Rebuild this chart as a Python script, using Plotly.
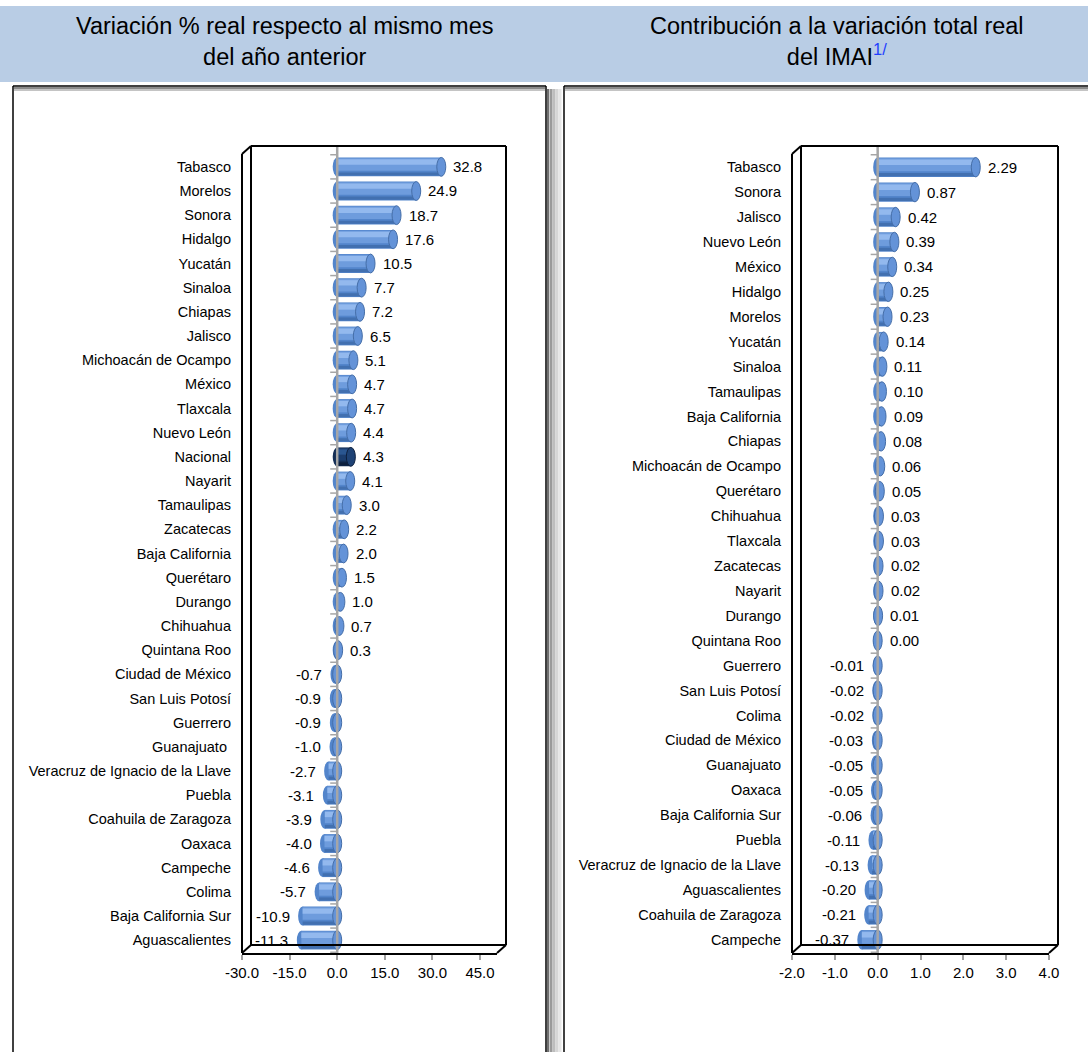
import plotly.graph_objects as go

# ---------------- data ----------------
left_cats = ["Tabasco", "Morelos", "Sonora", "Hidalgo", "Yucatán", "Sinaloa", "Chiapas", "Jalisco",
             "Michoacán de Ocampo", "México", "Tlaxcala", "Nuevo León", "Nacional", "Nayarit",
             "Tamaulipas", "Zacatecas", "Baja California", "Querétaro", "Durango", "Chihuahua",
             "Quintana Roo", "Ciudad de México", "San Luis Potosí", "Guerrero", "Guanajuato ",
             "Veracruz de Ignacio de la Llave", "Puebla", "Coahuila de Zaragoza", "Oaxaca",
             "Campeche", "Colima", "Baja California Sur", "Aguascalientes"]
left_vals = [32.8, 24.9, 18.7, 17.6, 10.5, 7.7, 7.2, 6.5, 5.1, 4.7, 4.7, 4.4, 4.3, 4.1,
             3.0, 2.2, 2.0, 1.5, 1.0, 0.7, 0.3, -0.7, -0.9, -0.9, -1.0, -2.7, -3.1, -3.9,
             -4.0, -4.6, -5.7, -10.9, -11.3]

right_cats = ["Tabasco", "Sonora", "Jalisco", "Nuevo León", "México", "Hidalgo", "Morelos",
              "Yucatán", "Sinaloa", "Tamaulipas", "Baja California", "Chiapas",
              "Michoacán de Ocampo", "Querétaro", "Chihuahua", "Tlaxcala", "Zacatecas",
              "Nayarit", "Durango", "Quintana Roo", "Guerrero", "San Luis Potosí", "Colima",
              "Ciudad de México", "Guanajuato", "Oaxaca", "Baja California Sur", "Puebla",
              "Veracruz de Ignacio de la Llave", "Aguascalientes", "Coahuila de Zaragoza",
              "Campeche"]
right_vals = [2.29, 0.87, 0.42, 0.39, 0.34, 0.25, 0.23, 0.14, 0.11, 0.10, 0.09, 0.08, 0.06,
              0.05, 0.03, 0.03, 0.02, 0.02, 0.01, 0.00, -0.01, -0.02, -0.02, -0.03, -0.05,
              -0.05, -0.06, -0.11, -0.13, -0.20, -0.21, -0.37]

left_ticks = [-30, -15, 0, 15, 30, 45]
right_ticks = [-2, -1, 0, 1, 2, 3, 4]
left_title = "Variación % real respecto al mismo mes<br>del año anterior"
right_title = ("Contribución a la variación total real<br>del IMAI"
               "<span style='color:#1F3FFF'><sup>1/</sup></span>")
highlight_cat = "Nacional"

# ---------------- geometry helpers ----------------
W, H = 1088, 1052
FONT = "Liberation Sans, Arial, sans-serif"


def px(x):
    return x / W


def py(y):
    return 1 - y / H


FRONT_TOP, FRONT_BOT = 154, 953
DX, DY = 9, -8

panels = [
    dict(cats=left_cats, vals=left_vals, xa="x", ya="y", fmt="{:.1f}", ticks=left_ticks,
         rng=[-30, 50.36], front=(242, 497)),
    dict(cats=right_cats, vals=right_vals, xa="x2", ya="y2", fmt="{:.2f}", ticks=right_ticks,
         rng=[-2, 4], front=(792, 1049)),
]

# cylinder layers: (offset, width, normal colour, highlighted colour)
layers = [
    (-0.39, 0.78, "#5385CB", "#142E55"),
    (-0.36, 0.52, "#6E9CDD", "#1B3D6E"),
    (-0.31, 0.22, "#93B9EE", "#2A5690"),
    (0.23, 0.13, "#4270B0", "#0D1F3D"),
]

fig = go.Figure()
shapes = []
annotations = []

# header band
shapes.append(dict(type="rect", xref="paper", yref="paper", x0=0, x1=1,
                   y0=py(82), y1=py(6), fillcolor="#B9CDE5", line=dict(width=0), layer="below"))

# panel boxes with shadow
for xs, c, w in [(548, "#6f6f6f", 2), (551, "#9a9a9a", 3), (554, "#bdbdbd", 3),
                 (557, "#d6d6d6", 3), (560, "#e6e6e6", 3)]:
    shapes.append(dict(type="line", xref="paper", yref="paper", x0=px(xs), x1=px(xs),
                       y0=py(89), y1=0, line=dict(color=c, width=w), layer="below"))
for xs in (13, 546, 564):
    shapes.append(dict(type="line", xref="paper", yref="paper", x0=px(xs), x1=px(xs),
                       y0=py(86), y1=0, line=dict(color="#000000", width=1.5), layer="below"))
shapes.append(dict(type="line", xref="paper", yref="paper", x0=px(13), x1=px(546),
                   y0=py(86), y1=py(86), line=dict(color="#000000", width=1.5), layer="below"))
shapes.append(dict(type="line", xref="paper", yref="paper", x0=px(564), x1=1,
                   y0=py(86), y1=py(86), line=dict(color="#000000", width=1.5), layer="below"))
for ys, c in [(88, "#8a8a8a"), (90, "#c4c4c4")]:
    for x0, x1 in [(14, 545), (565, 1088)]:
        shapes.append(dict(type="line", xref="paper", yref="paper", x0=px(x0), x1=px(x1),
                           y0=py(ys), y1=py(ys), line=dict(color=c, width=2), layer="below"))

layout_axes = {}
for k, p in enumerate(panels):
    cats, vals, xa, ya = p["cats"], p["vals"], p["xa"], p["ya"]
    n = len(cats)
    idx = list(range(n))
    is_hi = [c == highlight_cat for c in cats]
    for off, wd, cn, ch in layers:
        fig.add_trace(go.Bar(
            x=vals, y=cats, orientation="h", xaxis=xa, yaxis=ya,
            offset=off, width=wd,
            marker=dict(color=[ch if h else cn for h in is_hi], line=dict(width=0)),
            hoverinfo="skip", showlegend=False))

    # rounded far ends and visible cylinder caps
    for i, v in zip(idx, vals):
        hi = is_hi[i]
        shapes.append(dict(type="circle", xref=xa, yref=ya, xsizemode="pixel",
                           xanchor=min(v, 0), x0=-4.5, x1=4.5, y0=i - 0.39, y1=i + 0.39,
                           fillcolor="#142E55" if hi else "#5385CB",
                           line=dict(width=0), layer="below"))
        shapes.append(dict(type="circle", xref=xa, yref=ya, xsizemode="pixel",
                           xanchor=max(v, 0), x0=-4.5, x1=4.5, y0=i - 0.39, y1=i + 0.39,
                           fillcolor="#1E4275" if hi else "#6493D8",
                           line=dict(color="#0D1F3D" if hi else "#456EA8", width=1),
                           layer="above"))
        annotations.append(dict(
            x=v, y=cats[i], xref=xa, yref=ya, text=p["fmt"].format(v), showarrow=False,
            xanchor="left" if v >= 0 else "right", xshift=10 if v >= 0 else -11,
            font=dict(family=FONT, size=15, color="#000000")))

    # category-axis line at zero with boundary ticks
    for i in range(n + 1):
        shapes.append(dict(type="line", xref=xa, yref=ya, xsizemode="pixel", xanchor=0,
                           x0=-7, x1=0, y0=i - 0.5, y1=i - 0.5,
                           line=dict(color="#A6A6A6", width=1.5), layer="above"))
    shapes.append(dict(type="line", xref=xa, yref="paper", x0=0, x1=0,
                       y0=py(FRONT_BOT), y1=py(FRONT_TOP - 8),
                       line=dict(color="#A6A6A6", width=2.5), layer="above"))

    # 3D frame
    fl, fr = p["front"]
    segs = [
        ((fl + DX, FRONT_TOP + DY), (fr + DX, FRONT_TOP + DY)),
        ((fr + DX, FRONT_TOP + DY), (fr + DX, FRONT_BOT + DY)),
        ((fl + DX, FRONT_TOP + DY), (fl + DX, FRONT_BOT + DY)),
        ((fl + DX, FRONT_BOT + DY), (fr + DX, FRONT_BOT + DY)),
        ((fl, FRONT_TOP), (fl, FRONT_BOT)),
        ((fl, FRONT_TOP), (fl + DX, FRONT_TOP + DY)),
        ((fl, FRONT_BOT), (fl + DX, FRONT_BOT + DY)),
        ((fr, FRONT_BOT), (fr + DX, FRONT_BOT + DY)),
    ]
    for (xa0, ya0), (xa1, ya1) in segs:
        shapes.append(dict(type="line", xref="paper", yref="paper", x0=px(xa0), x1=px(xa1),
                           y0=py(ya0), y1=py(ya1), line=dict(color="#000000", width=2),
                           layer="above"))

    sfx = "" if k == 0 else "2"
    layout_axes["xaxis" + sfx] = dict(
        domain=[px(fl), px(fr)], range=p["rng"], anchor=ya, tickmode="array",
        tickvals=p["ticks"], ticktext=["{:.1f}".format(t) for t in p["ticks"]],
        ticks="outside", ticklen=5, tickwidth=1.5, tickcolor="#A0A0A0", automargin=False,
        showline=True, linecolor="#000000", linewidth=2, showgrid=False, zeroline=False,
        tickfont=dict(family=FONT, size=15, color="#000000"), fixedrange=True)
    layout_axes["yaxis" + sfx] = dict(
        domain=[py(FRONT_BOT), py(FRONT_TOP)], anchor=xa, type="category",
        categoryorder="array", categoryarray=cats, autorange="reversed", automargin=False,
        tickmode="array", tickvals=cats, ticktext=cats, ticks="", showline=False,
        showgrid=False, zeroline=False, ticklabelstandoff=10,
        tickfont=dict(family=FONT, size=14.5, color="#000000"), fixedrange=True)

annotations.append(dict(x=px(285), y=py(42), xref="paper", yref="paper", text=left_title,
                        showarrow=False, align="center", xanchor="center", yanchor="middle",
                        font=dict(family=FONT, size=23.5, color="#000000")))
annotations.append(dict(x=px(837), y=py(42), xref="paper", yref="paper", text=right_title,
                        showarrow=False, align="center", xanchor="center", yanchor="middle",
                        font=dict(family=FONT, size=23.5, color="#000000")))

fig.update_layout(
    width=W, height=H, autosize=False, margin=dict(l=0, r=0, t=0, b=0, pad=0),
    paper_bgcolor="#FFFFFF", plot_bgcolor="rgba(0,0,0,0)", barmode="overlay",
    shapes=shapes, annotations=annotations, showlegend=False,
    font=dict(family=FONT, color="#000000"), **layout_axes)

fig.write_html(
    "out.html",
    config={"displayModeBar": False, "responsive": False},
    post_script="document.body.style.margin='0';document.body.style.overflow='hidden';",
)
